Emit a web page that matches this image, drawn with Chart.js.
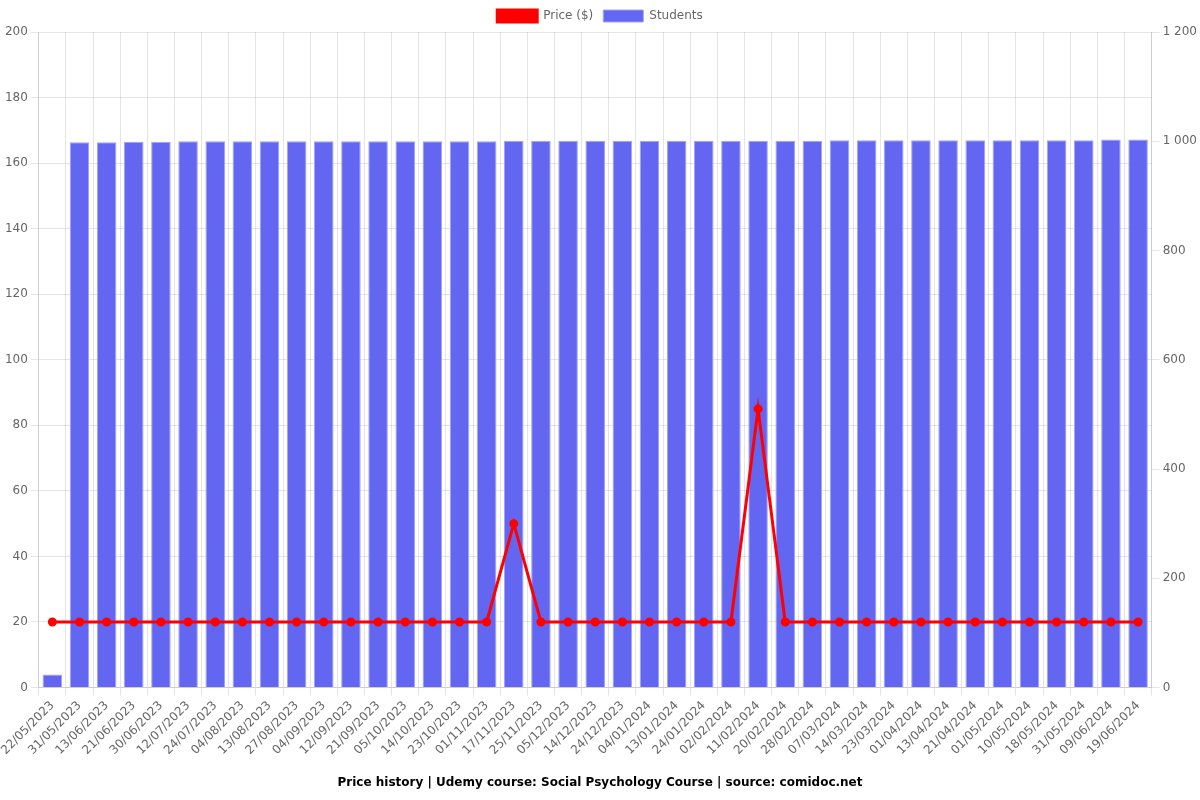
<!DOCTYPE html>
<html>
<head>
<meta charset="utf-8">
<script src="https://cdn.jsdelivr.net/npm/chart.js@4/dist/chart.umd.min.js"></script>
<style>
  html, body { margin: 0; padding: 0; background: #fff; }
  #wrap { width: 1200px; height: 800px; }
</style>
</head>
<body>
<div id="wrap"><canvas id="chartPrice"></canvas></div>
<script>
const DATES = [
  "22/05/2023", "31/05/2023", "13/06/2023", "21/06/2023", "30/06/2023",
  "12/07/2023", "24/07/2023", "04/08/2023", "13/08/2023", "27/08/2023",
  "04/09/2023", "12/09/2023", "21/09/2023", "05/10/2023", "14/10/2023",
  "23/10/2023", "01/11/2023", "17/11/2023", "25/11/2023", "05/12/2023",
  "14/12/2023", "24/12/2023", "04/01/2024", "13/01/2024", "24/01/2024",
  "02/02/2024", "11/02/2024", "20/02/2024", "28/02/2024", "07/03/2024",
  "14/03/2024", "23/03/2024", "01/04/2024", "13/04/2024", "21/04/2024",
  "01/05/2024", "10/05/2024", "18/05/2024", "31/05/2024", "09/06/2024",
  "19/06/2024",
];
const PRICES = [
  20, 20, 20, 20, 20, 20, 20, 20, 20, 20,
  20, 20, 20, 20, 20, 20, 20, 50, 20, 20,
  20, 20, 20, 20, 20, 20, 85, 20, 20, 20,
  20, 20, 20, 20, 20, 20, 20, 20, 20, 20,
  20,
];
const STUDENTS = [
  24, 998, 998, 999, 999, 1000, 1000, 1000, 1000, 1000,
  1000, 1000, 1000, 1000, 1000, 1000, 1000, 1001, 1001, 1001,
  1001, 1001, 1001, 1001, 1001, 1001, 1001, 1001, 1001, 1002,
  1002, 1002, 1002, 1002, 1002, 1002, 1002, 1002, 1002, 1003,
  1003,
];

Chart.defaults.font.family = "'DejaVu Sans', sans-serif";
Chart.defaults.color = "#666";

function spaced(v) {
  if (v < 1000) return String(v);
  return Math.floor(v / 1000) + " " + String(v % 1000).padStart(3, "0");
}

new Chart(document.getElementById("chartPrice"), {
  type: "bar",
  data: {
    labels: DATES,
    datasets: [
      {
        type: "line",
        label: "Price ($)",
        data: PRICES,
        yAxisID: "y",
        borderColor: "rgba(255,0,0,1)",
        backgroundColor: "rgba(255,0,0,1)",
        borderWidth: 3,
        pointRadius: 3,
        pointBackgroundColor: "rgba(255,0,0,1)",
        tension: 0,
        order: 0,
      },
      {
        type: "bar",
        label: "Students",
        data: STUDENTS,
        yAxisID: "y1",
        backgroundColor: "rgba(99,102,241,1)",
        borderColor: "rgba(160,162,250,1)",
        borderWidth: 1,
        order: 1,
      },
    ],
  },
  options: {
    responsive: true,
    maintainAspectRatio: false,
    animation: false,
    scales: {
      x: {
        ticks: { maxRotation: 45, minRotation: 45, autoSkip: false },
        grid: { color: "rgba(0,0,0,0.1)" },
      },
      y: {
        position: "left",
        min: 0,
        max: 200,
        ticks: { stepSize: 20 },
        grid: { color: "rgba(0,0,0,0.1)" },
      },
      y1: {
        position: "right",
        min: 0,
        max: 1200,
        ticks: { stepSize: 200, callback: spaced },
        grid: { drawOnChartArea: false },
      },
    },
    plugins: {
      legend: {
        position: "top",
        labels: { boxWidth: 40, font: { size: 12 } },
      },
      title: {
        display: true,
        position: "bottom",
        padding: { top: 15, bottom: 10 },
        text: "Price history | Udemy course: Social Psychology Course | source: comidoc.net",
        color: "#000",
        font: { size: 12, weight: "bold" },
      },
    },
  },
});
</script>
</body>
</html>
